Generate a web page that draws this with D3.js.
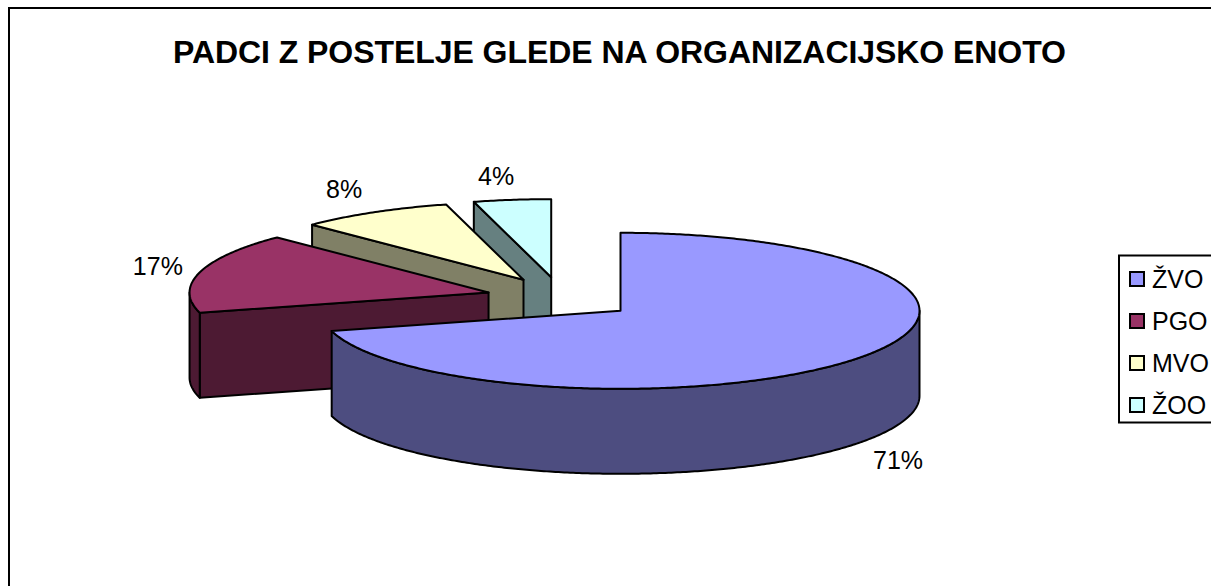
<!DOCTYPE html>
<html>
<head>
<meta charset="utf-8">
<script src="https://cdn.jsdelivr.net/npm/d3@7"></script>
<style>
html,body{margin:0;padding:0;background:#fff;overflow:hidden}
svg{display:block}
text{font-family:"Liberation Sans",Arial,sans-serif;fill:#000}
</style>
</head>
<body>
<svg id="c" width="1211" height="586"></svg>
<script>
const titleText = "PADCI Z POSTELJE GLEDE NA ORGANIZACIJSKO ENOTO";
const categories = ["ŽVO", "PGO", "MVO", "ŽOO"];
const values = [17, 4, 2, 1];
const topColors = ["#9999FF", "#993366", "#FFFFCC", "#CCFFFF"];
const sideColors = ["#4D4D80", "#4D1A33", "#808066", "#668080"];
const labelFactorX = [1.17, 1.145, 1.20, 1.41];
const labelFactorY = [1.36, 1.3, 1.345, 1.31];

const W = 1211, H = 586;
const cx = 561, cy = 298, rx = 299, ry = 78, depth = 85;
const explodeX = 75, explodeY = 21;

const svg = d3.select("#c");

svg.append("rect").attr("x", 9).attr("y", 8).attr("width", W + 20).attr("height", H + 20)
  .attr("fill", "#fff").attr("stroke", "#000").attr("stroke-width", 2);

svg.append("text").attr("x", 619.5).attr("y", 63).attr("text-anchor", "middle")
  .attr("font-size", 32).attr("font-weight", "bold").attr("textLength", 893).attr("lengthAdjust", "spacing").text(titleText);

const arcs = d3.pie().sort(null).value(d => d).startAngle(0).endAngle(2 * Math.PI)(values);
const line = d3.line().curve(d3.curveLinear);

const slices = arcs.map((a, i) => {
  const mid = (a.startAngle + a.endAngle) / 2;
  return {
    i, a, mid,
    ax: cx + explodeX * Math.sin(mid),
    ay: cy - explodeY * Math.cos(mid)
  };
});
const rim = (s, t, dz = 0) => [s.ax + rx * Math.sin(t), s.ay - ry * Math.cos(t) + dz];
const samples = (t0, t1) => {
  const n = Math.max(2, Math.ceil((t1 - t0) / 0.01));
  return d3.range(n + 1).map(k => t0 + (t1 - t0) * k / n);
};
const PI = Math.PI;

const g = svg.append("g").attr("stroke", "#000").attr("stroke-width", 2).attr("stroke-linejoin", "round");

// painter's order: back slices first
slices.slice().reverse().forEach(s => {
  const { a, i } = s;
  const side = sideColors[i];
  const apex = [s.ax, s.ay];
  const apexLow = [s.ax, s.ay + depth];
  // start cut face
  if (a.startAngle >= PI) {
    g.append("path").attr("fill", side).attr("d", line([apex, rim(s, a.startAngle), rim(s, a.startAngle, depth), apexLow]) + "Z");
  }
  // end cut face
  if (a.endAngle <= PI) {
    g.append("path").attr("fill", side).attr("d", line([apex, rim(s, a.endAngle), rim(s, a.endAngle, depth), apexLow]) + "Z");
  }
  // outer wall: only the front half of the rim faces the viewer
  const w0 = Math.max(a.startAngle, PI / 2), w1 = Math.min(a.endAngle, 3 * PI / 2);
  if (w1 > w0) {
    const ts = samples(w0, w1);
    const pts = ts.map(t => rim(s, t)).concat(ts.slice().reverse().map(t => rim(s, t, depth)));
    g.append("path").attr("fill", side).attr("d", line(pts) + "Z");
  }
  // top face
  const pts = [apex].concat(samples(a.startAngle, a.endAngle).map(t => rim(s, t)));
  g.append("path").attr("fill", topColors[i]).attr("d", line(pts) + "Z");
});

// percent labels
const total = d3.sum(values);
slices.forEach(s => {
  const i = s.i;
  const low = Math.cos(s.mid) < 0 ? depth : 0;
  svg.append("text")
    .attr("x", s.ax + rx * Math.sin(s.mid) * labelFactorX[i])
    .attr("y", s.ay - ry * Math.cos(s.mid) * labelFactorY[i] + low + 9)
    .attr("text-anchor", "middle").attr("font-size", 25)
    .text(d3.format(".0%")(values[i] / total));
});

// legend
const legendY = d3.scalePoint().domain(categories).range([279, 405]);
svg.append("rect").attr("x", 1119).attr("y", 255.5).attr("width", 120).attr("height", 167)
  .attr("fill", "#fff").attr("stroke", "#000").attr("stroke-width", 2);
categories.forEach((c, i) => {
  svg.append("rect").attr("x", 1130).attr("y", legendY(c) - 7).attr("width", 14).attr("height", 14)
    .attr("fill", topColors[i]).attr("stroke", "#000").attr("stroke-width", 2);
  svg.append("text").attr("x", 1152).attr("y", legendY(c) + 8.5).attr("font-size", 25).text(c);
});
</script>
</body>
</html>
